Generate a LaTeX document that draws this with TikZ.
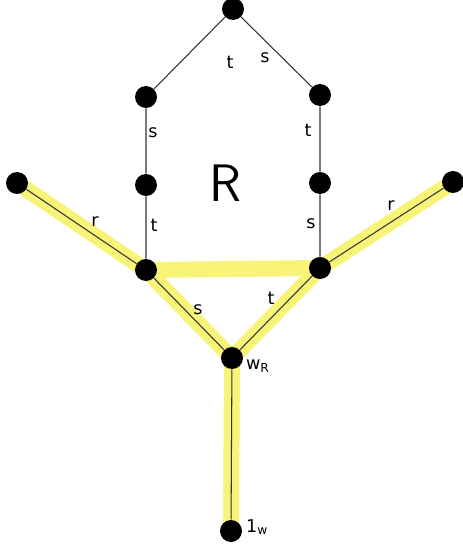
\documentclass[tikz,border=0pt]{standalone}
\usepackage{fontspec}
\setmainfont{DejaVu Sans}
\usetikzlibrary{backgrounds}
\definecolor{hlyellow}{RGB}{248,244,120}

\begin{document}
\begin{tikzpicture}[x=0.02cm,y=-0.02cm,
  every node/.style={font=\small},
  dot/.style={circle,fill=black,inner sep=0pt,minimum size=0.44cm},
  edge/.style={draw=black!80,line width=0.6pt},
  hl/.style={draw=hlyellow,line width=0.32cm,line cap=round},
  lbl/.style={inner sep=1pt,font=\normalsize}]
\useasboundingbox (0,0) rectangle (463,551);
% vertices
\node[dot] (T)  at (233,9) {};
\node[dot] (UL) at (146,97) {};
\node[dot] (UR) at (320,95) {};
\node[dot] (ML) at (146,185) {};
\node[dot] (MR) at (320,183) {};
\node[dot] (FL) at (17,183) {};
\node[dot] (FR) at (453,182) {};
\node[dot] (JL) at (146,270) {};
\node[dot] (JR) at (320,268) {};
\node[dot] (W)  at (232,358) {};
\node[dot] (B)  at (231,531) {};
% highlighted path
\begin{scope}[on background layer]
\draw[hl] (FL.center) -- (JL.center) -- (W.center) -- (JR.center) -- (FR.center);
\draw[hl,line cap=butt] (W.center) -- (B.center);
\draw[hl,line cap=butt] (JL.center) -- (JR.center);
\end{scope}
% edges
\draw[edge] (T) -- (UL) -- (ML) -- (JL) -- (W) -- (B);
\draw[edge] (T) -- (UR) -- (MR) -- (JR) -- (W);
\draw[edge] (FL) -- (JL);
\draw[edge] (FR) -- (JR);
% labels
\node[lbl] (lt1) at (230,62) {t};
\node[lbl] (ls1) at (265,58) {s};
\node[lbl] (ls2) at (153,133) {s};
\node[lbl] (lt2) at (308,130) {t};
\node[lbl] (lt3) at (154,225) {t};
\node[lbl] (ls3) at (311,224) {s};
\node[lbl] (lr1) at (95,222) {r};
\node[lbl] (lr2) at (391,206) {r};
\node[lbl] (ls4) at (198,310) {s};
\node[lbl] (lt4) at (271,298) {t};
\node[lbl,font=\fontsize{30}{32}\selectfont\sffamily] (lR) at (225,183) {R};
\node[lbl,anchor=west] (lw) at (244,366) {w\textsubscript{R}};
\node[lbl,anchor=west] (l1) at (244,527) {1\textsubscript{w}};
\end{tikzpicture}
\end{document}
